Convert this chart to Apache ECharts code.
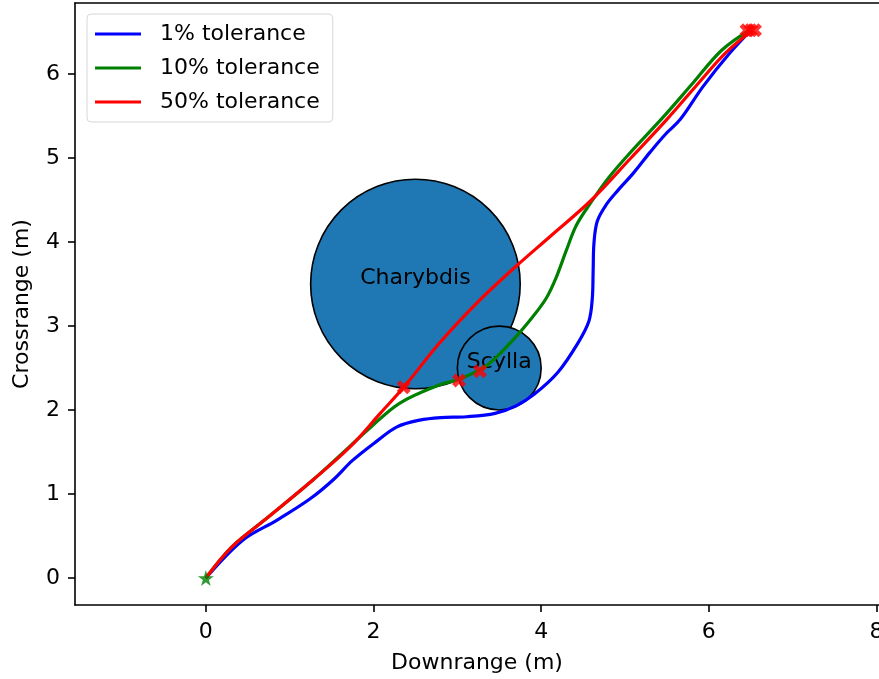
<!DOCTYPE html>
<html>
<head>
<meta charset="utf-8">
<script src="https://cdn.jsdelivr.net/npm/echarts@6/dist/echarts.min.js"></script>
<style>
  html, body { margin: 0; padding: 0; background: #fff; }
  #chart { width: 879px; height: 679px; }
</style>
</head>
<body>
<div id="chart"></div>
<script>
// Trajectories (downrange, crossrange) in metres for each tolerance setting
const path1pct = [
  [0, 0], [0.44, 0.45], [0.85, 0.69], [1.24, 0.94], [1.52, 1.17], [1.75, 1.40],
  [2.04, 1.63], [2.28, 1.80], [2.55, 1.88], [2.80, 1.91], [3.11, 1.92], [3.45, 1.96],
  [3.70, 2.05], [3.92, 2.19], [4.20, 2.45], [4.44, 2.80], [4.57, 3.06], [4.61, 3.33],
  [4.62, 3.66], [4.63, 3.99], [4.67, 4.25], [4.78, 4.45], [4.92, 4.62], [5.10, 4.82],
  [5.30, 5.07], [5.48, 5.28], [5.66, 5.46], [5.93, 5.85], [6.25, 6.25], [6.50, 6.52]
];
const path10pct = [
  [0, 0], [0.31, 0.37], [0.70, 0.69], [1.28, 1.17], [1.72, 1.57], [1.95, 1.78],
  [2.31, 2.08], [2.79, 2.30], [3.03, 2.37], [3.35, 2.53], [3.66, 2.83], [3.90, 3.11],
  [4.06, 3.33], [4.18, 3.58], [4.30, 3.90], [4.42, 4.20], [4.60, 4.48], [4.80, 4.76],
  [5.05, 5.05], [5.45, 5.48], [5.80, 5.88], [6.15, 6.28], [6.48, 6.52]
];
const path50pct = [
  [0, 0], [0.31, 0.37], [0.70, 0.69], [1.28, 1.17], [1.72, 1.56], [2.08, 1.96],
  [2.36, 2.27], [2.79, 2.80], [3.27, 3.31], [3.71, 3.72], [4.10, 4.06], [4.60, 4.50],
  [5.07, 5.00], [5.50, 5.46], [5.85, 5.86], [6.20, 6.25], [6.52, 6.52]
];
const seriesNames = ['1% tolerance', '10% tolerance', '50% tolerance'];

// Circular obstacles: [centre x, centre y, radius, name]
const obstacles = [
  [2.5, 3.5, 1.25, 'Charybdis'],
  [3.5, 2.5, 0.5, 'Scylla']
];

// Collision / end-point markers and start point
const collisionPoints = [[2.36, 2.27], [3.02, 2.35], [3.27, 2.46], [6.45, 6.52], [6.50, 6.52], [6.55, 6.52]];
const startPoint = [[0, 0]];

const xTicks = [0, 2, 4, 6, 8];
const yTicks = [0, 1, 2, 3, 4, 5, 6];

const FONT = 'DejaVu Sans';
const FS = 22;
const starPath = 'path://M50,0 L61,35 L98,35 L68,57 L79,91 L50,70 L21,91 L32,57 L2,35 L39,35 Z';
const xPath = 'path://M0,25 L25,0 L50,25 L75,0 L100,25 L75,50 L100,75 L75,100 L50,75 L25,100 L0,75 L25,50 Z';

const chart = echarts.init(document.getElementById('chart'), null, { renderer: 'canvas' });

function lineSeries(name, data, color, z) {
  return {
    name, type: 'line', data, xAxisIndex: 0, yAxisIndex: 0,
    showSymbol: false, symbol: 'none', smooth: 0.35, z,
    lineStyle: { color, width: 3.2 }, itemStyle: { color },
    emphasis: { disabled: true }, animation: false
  };
}

const option = {
  animation: false,
  backgroundColor: '#fff',
  grid: { left: 75, top: 3, right: 0, bottom: 74, containLabel: false, outerBoundsMode: 'none' },
  legend: {
    orient: 'vertical', left: 87, top: 14,
    data: seriesNames,
    icon: 'rect', itemWidth: 46, itemHeight: 3, itemGap: 10,
    padding: [8, 13, 8, 8],
    backgroundColor: 'rgba(255,255,255,0.8)',
    borderColor: '#d6d6d6', borderWidth: 1, borderRadius: 4,
    textStyle: { fontFamily: FONT, fontSize: FS, color: '#000', lineHeight: 24, padding: [0, 0, 0, 14] },
    selectedMode: false
  },
  xAxis: [{
    type: 'value', min: -1.561, max: 8.03, interval: 2,
    position: 'bottom',
    name: 'Downrange (m)', nameLocation: 'middle', nameGap: 47,
    nameTextStyle: { fontFamily: FONT, fontSize: FS, color: '#000' },
    axisLine: { show: true, onZero: false, lineStyle: { color: '#000', width: 1.6 } },
    axisTick: { show: true, inside: false, length: 7, lineStyle: { color: '#000', width: 1.6 }, customValues: xTicks },
    axisLabel: { fontFamily: FONT, fontSize: FS, color: '#000', margin: 16, customValues: xTicks, showMinLabel: true, showMaxLabel: true, hideOverlap: false },
    splitLine: { show: false }
  }, {
    type: 'value', min: -1.561, max: 8.03, position: 'top',
    axisLine: { show: true, onZero: false, lineStyle: { color: '#000', width: 1.6 } },
    axisTick: { show: false }, axisLabel: { show: false }, splitLine: { show: false }
  }],
  yAxis: [{
    type: 'value', min: -0.321, max: 6.845, interval: 1,
    name: 'Crossrange (m)', nameLocation: 'middle', nameGap: 42,
    nameTextStyle: { fontFamily: FONT, fontSize: FS, color: '#000' },
    axisLine: { show: true, onZero: false, lineStyle: { color: '#000', width: 1.6 } },
    axisTick: { show: true, inside: false, length: 7, lineStyle: { color: '#000', width: 1.6 }, customValues: yTicks },
    axisLabel: { fontFamily: FONT, fontSize: FS, color: '#000', margin: 15, customValues: yTicks },
    splitLine: { show: false }
  }],
  series: [
    {
      type: 'custom', name: 'obstacles', data: obstacles, z: 1,
      xAxisIndex: 0, yAxisIndex: 0,
      renderItem: function (params, api) {
        const c = api.coord([api.value(0), api.value(1)]);
        const r = api.size([api.value(2), 0])[0];
        const label = obstacles[params.dataIndex][3];
        return {
          type: 'group',
          children: [{
            type: 'circle',
            shape: { cx: c[0], cy: c[1], r: r },
            style: { fill: '#1f77b4', stroke: '#000', lineWidth: 1.6 }
          }, {
            type: 'text',
            style: {
              x: c[0], y: c[1] + 5, text: label,
              fill: '#000', font: FS + 'px "' + FONT + '"',
              textAlign: 'center', textVerticalAlign: 'bottom'
            },
            z2: 10
          }]
        };
      },
      encode: { x: 0, y: 1 },
      silent: true, animation: false
    },
    lineSeries(seriesNames[0], path1pct, '#0000ff', 3),
    lineSeries(seriesNames[1], path10pct, '#008000', 4),
    lineSeries(seriesNames[2], path50pct, '#ff0000', 5),
    {
      type: 'scatter', name: 'collisions', data: collisionPoints, z: 6,
      symbol: xPath, symbolSize: 14,
      itemStyle: { color: '#ff0000' }, silent: true, animation: false
    },
    {
      type: 'scatter', name: 'start', data: startPoint, z: 6,
      symbol: starPath, symbolSize: 16,
      itemStyle: { color: '#008000' }, silent: true, animation: false
    }
  ]
};

chart.setOption(option);
</script>
</body>
</html>
